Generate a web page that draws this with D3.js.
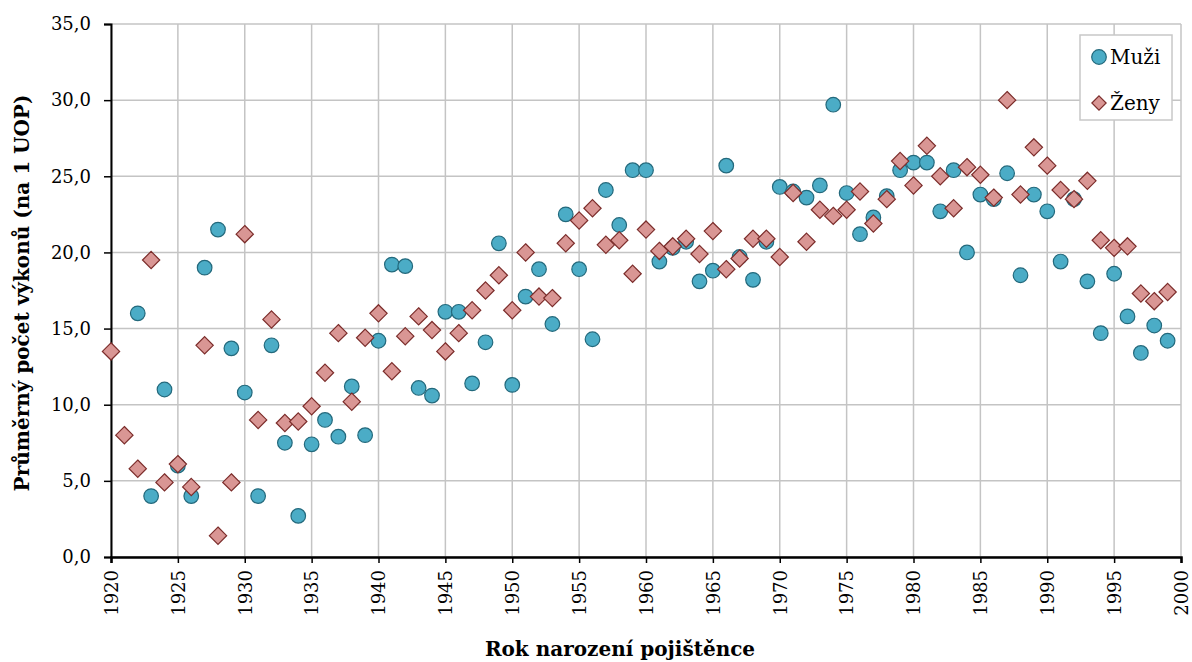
<!DOCTYPE html>
<html><head><meta charset="utf-8">
<script src="https://cdn.jsdelivr.net/npm/d3@7"></script>
<style>body{margin:0;background:#fff}svg{display:block}</style>
</head><body><svg id="c" width="1192" height="662"></svg>
<script>
const years = d3.range(1920, 2000);
const muzi = [null,null,16.0,4.0,11.0,6.0,4.0,19.0,21.5,13.7,
 10.8,4.0,13.9,7.5,2.7,7.4,9.0,7.9,11.2,8.0,
 14.2,19.2,19.1,11.1,10.6,16.1,16.1,11.4,14.1,20.6,
 11.3,17.1,18.9,15.3,22.5,18.9,14.3,24.1,21.8,25.4,
 25.4,19.4,20.3,20.7,18.1,18.8,25.7,19.7,18.2,20.7,
 24.3,24.0,23.6,24.4,29.7,23.9,21.2,22.3,23.7,25.4,
 25.9,25.9,22.7,25.4,20.0,23.8,23.5,25.2,18.5,23.8,
 22.7,19.4,23.5,18.1,14.7,18.6,15.8,13.4,15.2,14.2];
const zeny = [13.5,8.0,5.8,19.5,4.9,6.1,4.6,13.9,1.4,4.9,
 21.2,9.0,15.6,8.8,8.9,9.9,12.1,14.7,10.2,14.4,
 16.0,12.2,14.5,15.8,14.9,13.5,14.7,16.2,17.5,18.5,
 16.2,20.0,17.1,17.0,20.6,22.1,22.9,20.5,20.8,18.6,
 21.5,20.1,20.4,20.9,19.9,21.4,18.9,19.6,20.9,20.9,
 19.7,23.9,20.7,22.8,22.4,22.8,24.0,21.9,23.5,26.0,
 24.4,27.0,25.0,22.9,25.6,25.1,23.6,30.0,23.8,26.9,
 25.7,24.1,23.5,24.7,20.8,20.3,20.4,17.3,16.8,17.4];
const xTicks = d3.range(1920, 2001, 5);
const yTicks = d3.range(0, 35.1, 5);
const seriesNames = ["Muži", "Ženy"];

const svg = d3.select("#c");
const L = 111, R = 1181, T = 24, B = 557;
const x = d3.scaleLinear().domain([1920, 2000]).range([L, R]);
const y = d3.scaleLinear().domain([0, 35]).range([B, T]);
const fmt = v => d3.format(".1f")(v).replace(".", ",");
const serif = "'DejaVu Serif', serif";

// grid
svg.append("g").selectAll("line").data(yTicks).join("line")
  .attr("x1", L).attr("x2", R).attr("y1", d => y(d)).attr("y2", d => y(d))
  .attr("stroke", "#c4c4c4").attr("stroke-width", 1.5);
svg.append("g").selectAll("line").data(xTicks).join("line")
  .attr("x1", d => x(d)).attr("x2", d => x(d)).attr("y1", T).attr("y2", B)
  .attr("stroke", "#c4c4c4").attr("stroke-width", 1.5);

// axes
const ya = svg.append("g").attr("transform", `translate(${L},0)`)
  .call(d3.axisLeft(y).tickValues(yTicks).tickFormat(fmt).tickSize(7).tickPadding(13));
ya.select(".domain").attr("stroke", "#000").attr("stroke-width", 2);
ya.selectAll(".tick line").attr("stroke", "#000").attr("stroke-width", 1.5);
ya.selectAll("text").attr("font-family", serif).attr("font-size", 18).attr("fill", "#000");

const xa = svg.append("g").attr("transform", `translate(0,${B})`)
  .call(d3.axisBottom(x).tickValues(xTicks).tickFormat(d3.format("d")).tickSize(6));
xa.select(".domain").attr("stroke", "#000").attr("stroke-width", 2.5);
xa.selectAll(".tick line").attr("stroke", "#000").attr("stroke-width", 1.5);
xa.selectAll("text").attr("font-family", serif).attr("font-size", 18).attr("fill", "#000")
  .attr("transform", "rotate(-90)").attr("text-anchor", "end")
  .attr("x", -13).attr("y", 0).attr("dy", "0.35em");

// titles
svg.append("text").attr("transform", `translate(29,${293}) rotate(-90)`)
  .attr("text-anchor", "middle").attr("font-family", serif)
  .attr("font-weight", "bold").attr("font-size", 20).text("Průměrný počet výkonů (na 1 UOP)");
svg.append("text").attr("x", 620).attr("y", 656)
  .attr("text-anchor", "middle").attr("font-family", serif)
  .attr("font-weight", "bold").attr("font-size", 20).text("Rok narození pojištěnce");

// points
const mData = years.map((yr,i)=>({yr, v: muzi[i]})).filter(d => d.v != null);
const zData = years.map((yr,i)=>({yr, v: zeny[i]})).filter(d => d.v != null);
const circ = "#4bacc6", circS = "#23697c", dia = "#d99694", diaS = "#7b2c2a";
svg.append("g").selectAll("circle").data(mData).join("circle")
  .attr("cx", d => x(d.yr)).attr("cy", d => y(d.v)).attr("r", 7.3)
  .attr("fill", circ).attr("stroke", circS).attr("stroke-width", 1.2);
const diamond = d3.symbol().type(d3.symbolDiamond2).size(190);
svg.append("g").selectAll("path").data(zData).join("path")
  .attr("transform", d => `translate(${x(d.yr)},${y(d.v)})`).attr("d", diamond)
  .attr("fill", dia).attr("stroke", diaS).attr("stroke-width", 1.2);

// legend
const lg = svg.append("g");
lg.append("rect").attr("x", 1080).attr("y", 35).attr("width", 92).attr("height", 85)
  .attr("fill", "#fff").attr("stroke", "#c8c8c8").attr("stroke-width", 1.5);
lg.append("circle").attr("cx", 1099).attr("cy", 57).attr("r", 7.3)
  .attr("fill", circ).attr("stroke", circS).attr("stroke-width", 1.2);
lg.append("path").attr("transform", "translate(1099,103)").attr("d", d3.symbol().type(d3.symbolDiamond2).size(130))
  .attr("fill", dia).attr("stroke", diaS).attr("stroke-width", 1.2);
lg.selectAll("text").data(seriesNames).join("text")
  .attr("x", 1110).attr("y", (d,i) => 57 + i*46).attr("dy", "0.35em")
  .attr("font-family", serif).attr("font-size", 20).text(d => d);
</script></body></html>
